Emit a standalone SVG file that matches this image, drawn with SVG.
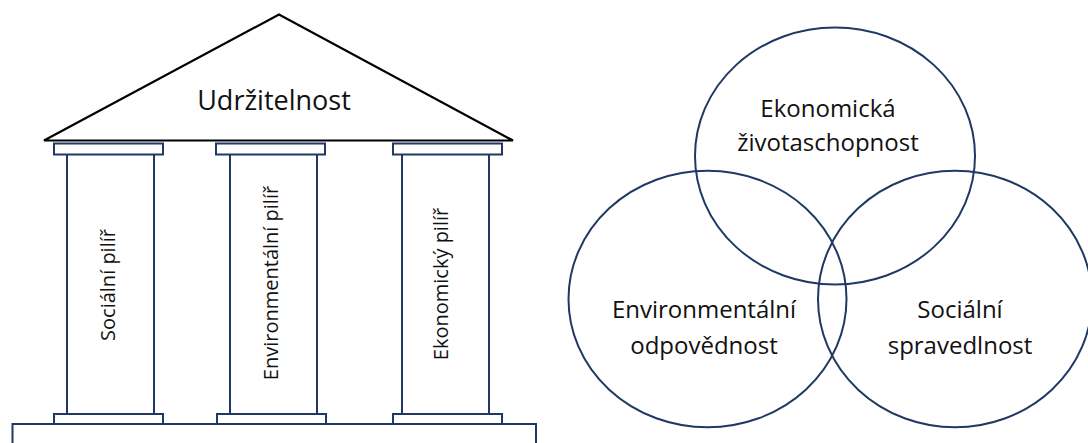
<svg xmlns="http://www.w3.org/2000/svg" width="1088" height="443" viewBox="0 0 1088 443">
<style>
.roof{fill:#fff;stroke:#000;stroke-width:2.2;stroke-linejoin:miter}
.part{fill:#fff;stroke:#1f3864;stroke-width:2}
.ring{fill:none;stroke:#1f3864;stroke-width:2}
.t{font-family:"Open Sans","Liberation Sans",sans-serif;fill:#111;text-anchor:middle}
</style>
<rect width="1088" height="443" fill="#fff"/>
<g id="foundation"><rect class="part" x="12.5" y="424" width="523.5" height="40"/></g>
<g id="roof">
<polygon class="roof" points="44,140.5 279,14.5 513,140.5"/>
<text class="t" x="274" y="110" font-size="27">Udržitelnost</text>
</g>
<g id="pillar-social">
<rect class="part" x="67" y="154" width="87" height="260"/>
<rect class="part" x="54" y="143.5" width="109" height="11"/>
<rect class="part" x="54" y="414" width="109" height="10"/>
<text class="t" font-size="20" transform="translate(115,285) rotate(-90)">Sociální pilíř</text>
</g>
<g id="pillar-environmental">
<rect class="part" x="230" y="154" width="87" height="260"/>
<rect class="part" x="216" y="143.5" width="109" height="11"/>
<rect class="part" x="217" y="414" width="109" height="10"/>
<text class="t" font-size="20" transform="translate(278,283) rotate(-90)">Environmentální pilíř</text>
</g>
<g id="pillar-economic">
<rect class="part" x="402" y="154" width="87" height="260"/>
<rect class="part" x="393" y="143.5" width="109" height="11"/>
<rect class="part" x="393" y="414" width="109" height="10"/>
<text class="t" font-size="20" transform="translate(448,284) rotate(-90)">Ekonomický pilíř</text>
</g>
<g id="circle-economic">
<ellipse class="ring" cx="835" cy="156" rx="140" ry="128.5"/>
<text class="t" x="828" y="116.5" font-size="24">Ekonomická</text>
<text class="t" x="828" y="151" font-size="24">životaschopnost</text>
</g>
<g id="circle-environmental">
<ellipse class="ring" cx="707.5" cy="299" rx="139" ry="128.3"/>
<text class="t" x="704" y="318" font-size="24">Environmentální</text>
<text class="t" x="704" y="354" font-size="24">odpovědnost</text>
</g>
<g id="circle-social">
<ellipse class="ring" cx="955" cy="299" rx="137" ry="128.3"/>
<text class="t" x="960" y="318" font-size="24">Sociální</text>
<text class="t" x="960" y="354" font-size="24">spravedlnost</text>
</g>
<g id="connectors"></g>
</svg>
